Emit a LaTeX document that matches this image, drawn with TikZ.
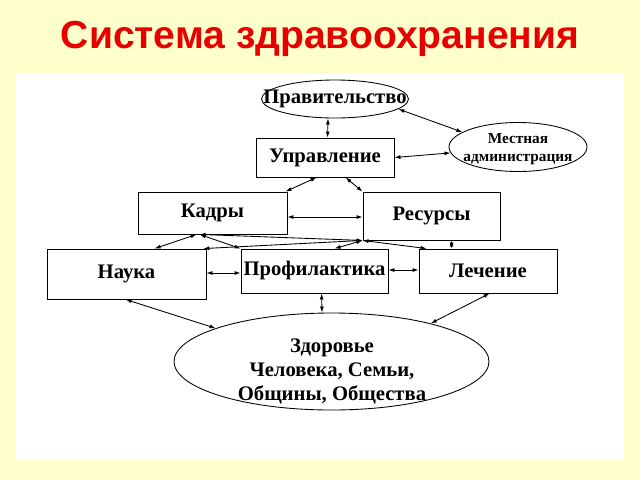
\documentclass[tikz,border=0pt]{standalone}
\usepackage{fontspec}
\setmainfont{Liberation Serif}
\newfontfamily\titlefont{Liberation Sans}
\usetikzlibrary{shapes.geometric,arrows.meta,calc}
\definecolor{bgyellow}{RGB}{255,255,204}
\definecolor{titlered}{RGB}{230,0,0}
\begin{document}
\begin{tikzpicture}[x=0.75pt,y=-0.75pt,
  box/.style 2 args={draw, rectangle, line width=0.65pt, minimum width=#1*0.75pt, minimum height=#2*0.75pt, inner sep=0pt, font=\fontsize{15.5}{18}\selectfont\bfseries},
  oval/.style 2 args={draw, ellipse, line width=0.65pt, minimum width=#1*0.75pt, minimum height=#2*0.75pt, inner sep=0pt},
  lbl/.style={inner sep=0pt, align=center, font=\fontsize{15.5}{18}\selectfont\bfseries},
  small/.style={inner sep=0pt, align=center, font=\fontsize{11.5}{13.5}\selectfont\bfseries},
  link/.style={{Latex[length=4.5pt,width=3pt]}-{Latex[length=4.5pt,width=3pt]}, line width=0.65pt}]
\fill[bgyellow] (0,0) rectangle (640,480);
\useasboundingbox (0,0) rectangle (640,480);
\fill[white] (16,73) rectangle (624,459);
\node[font=\titlefont\bfseries\fontsize{29.3}{33}\selectfont, text=titlered, inner sep=0pt] (title) at (320,38.5) {Система здравоохранения};
% ellipses
\node[oval={147}{38}] (gov) at (335,99) {};
\node[lbl] (govt) at (gov) {Правительство};
\node[oval={138}{49}] (mest) at (518,147) {};
\node[small] (mestt) at (518,149) {Местная\\администрация};
\node[oval={315}{97}] (zdr) at (331.5,361.5) {};
\node[lbl] (zdrt) at (332,371.5) {Здоровье\\[0.3pt]Человека, Семьи,\\[0.3pt]Общины, Общества};
% boxes
\node[box={138}{39}] (upr) at (325,157.5) {Управление};
\node[box={149}{42}] (kad) at (212.5,213) {Кадры};
\node[box={137}{48}] (res) at (431.5,216) {Ресурсы};
\node[box={159}{50}] (nau) at (126.5,274) {Наука};
\node[box={147}{44}] (pro) at (314.5,271) {Профилактика};
\node[box={138}{44}] (lec) at (488,271) {Лечение};
% connectors
\draw[link] ($(gov.south)+(-7,0)$) -- ($(upr.north west)+(72,0)$);
\draw[link] (gov.-9) -- (mest.165);
\draw[link] (mest.185) -- (upr.east);
\draw[link] ($(upr.south west)+(61,0)$) -- ($(kad.north east)+(-2,0)$);
\draw[link] ($(upr.south west)+(90,0)$) -- (res.north west);
\draw[link] ($(kad.east)+(0,4)$) -- ($(res.west)+(0,1)$);
\draw[link] ($(kad.south west)+(59,0)$) -- ($(nau.north west)+(108,0)$);
\draw[link] ($(kad.south west)+(62,0)$) -- (pro.north west);
\draw[link] ($(kad.south west)+(62,0)$) -- (res.south west);
\draw[link] (res.south west) -- ($(nau.north east)+(-3,0)$);
\draw[link] (res.south west) -- ($(pro.north west)+(94,0)$);
\draw[link] (res.south west) -- ($(lec.north west)+(8,0)$);
\draw[link] ($(res.south west)+(89,0)$) -- ($(lec.north west)+(33,0)$);
\draw[link] ($(nau.east)+(0,-1)$) -- ($(pro.west)+(0,2)$);
\draw[link] ($(pro.east)+(0,-1)$) -- ($(lec.west)+(0,-1)$);
\draw[link] ($(pro.south west)+(81,0)$) -- ($(zdr.north)+(-9.5,0)$);
\draw[link] ($(nau.south west)+(79,0)$) -- (zdr.164);
\draw[link] ($(lec.south west)+(71,0)$) -- (zdr.21);
\end{tikzpicture}
\end{document}
